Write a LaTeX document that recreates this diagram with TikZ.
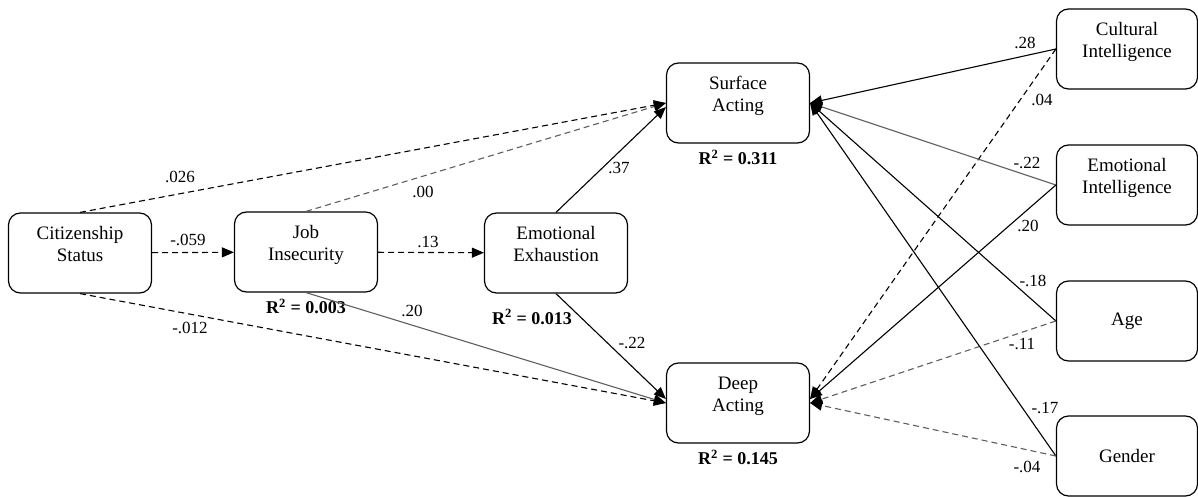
\documentclass[tikz,border=0pt]{standalone}
\usepackage{fontspec}
\setmainfont{Liberation Serif}
\usepackage{tikz}
\usetikzlibrary{arrows.meta,positioning}
\definecolor{lgray}{HTML}{5E5E5E}
\tikzset{
  >={Triangle[length=12pt,width=10pt,color=black]},
  box/.style={draw,rounded corners=12pt,line width=1.2pt,minimum width=143pt,minimum height=80pt,inner sep=3pt,align=center,font=\fontsize{19}{22}\selectfont,text depth=18pt},
  onebox/.style={box,text depth={}},
  lab/.style={font=\fontsize{17}{20}\selectfont,inner sep=1pt},
  rsq/.style={font=\fontsize{18}{21}\selectfont\bfseries,inner sep=1pt},
  arr/.style={->,draw=black,line width=1.1pt},
  garr/.style={->,draw=lgray,line width=1.1pt},
  darr/.style={->,draw=black,line width=1.1pt,dash pattern=on 6pt off 4pt},
  gdarr/.style={->,draw=lgray,line width=1.1pt,dash pattern=on 6pt off 4pt},
}
\begin{document}
\begin{tikzpicture}[x=1pt,y=-1pt]
\useasboundingbox (0,0) rectangle (1198,497);
% left chain
\node[box] (cs) at (80,253) {Citizenship\\Status};
\node[box] (ji) at (306,252) {Job\\Insecurity};
\node[box] (ee) at (556,253) {Emotional\\Exhaustion};
% outcomes
\node[box] (sa) at (738,103) {Surface\\Acting};
\node[box] (da) at (738,403) {Deep\\Acting};
% right predictors
\node[box,minimum width=141pt] (ci) at (1127,49) {Cultural\\Intelligence};
\node[box,minimum width=141pt] (ei) at (1127,185) {Emotional\\Intelligence};
\node[onebox,minimum width=141pt] (ag) at (1127,321) {Age};
\node[onebox,minimum width=141pt] (ge) at (1127,456) {Gender};
% R squared
\node[rsq,below=5pt of ji] (rji) {R\textsuperscript{2} = 0.003};
\node[rsq] (ree) at (532,317) {R\textsuperscript{2} = 0.013};
\node[rsq,below=5pt of sa] (rsa) {R\textsuperscript{2} = 0.311};
\node[rsq,below=5pt of da] (rda) {R\textsuperscript{2} = 0.145};
% paths into surface acting
\draw[darr] (cs.north) -- (sa.west);
\draw[gdarr] (ji.north) -- (sa.west);
\draw[arr] (ee.north) -- ([yshift=-4pt]sa.west);
\draw[darr] (cs) -- (ji);
\draw[darr] (ji) -- (ee);
% paths into deep acting
\draw[darr] (cs.south) -- (da.west);
\draw[garr] (ji.south) -- (da.west);
\draw[arr] (ee.south) -- ([yshift=4pt]da.west);
% right side
\draw[arr] (ci.west) -- (sa.east);
\draw[darr] (ci.west) -- ([yshift=4pt]da.east);
\draw[garr] (ei.west) -- (sa.east);
\draw[arr] (ei.west) -- ([yshift=4pt]da.east);
\draw[arr] (ag.west) -- (sa.east);
\draw[gdarr] (ag.west) -- (da.east);
\draw[arr] (ge.west) -- (sa.east);
\draw[gdarr] (ge.west) -- (da.east);
% coefficients
\node[lab] (w1) at (180,177) {.026};
\node[lab] (w2) at (423,192) {.00};
\node[lab] (w3) at (619,168) {.37};
\node[lab] (w4) at (188,240) {-.059};
\node[lab] (w5) at (428,242) {.13};
\node[lab] (w6) at (190,328) {-.012};
\node[lab] (w7) at (412,311) {.20};
\node[lab] (w8) at (632,343) {-.22};
\node[lab] (w9) at (1025,43) {.28};
\node[lab] (w10) at (1042,100) {.04};
\node[lab] (w11) at (1027,163) {-.22};
\node[lab] (w12) at (1028,226) {.20};
\node[lab] (w13) at (1033,281) {-.18};
\node[lab] (w14) at (1022,344) {-.11};
\node[lab] (w15) at (1045,408) {-.17};
\node[lab] (w16) at (1027,467) {-.04};
\end{tikzpicture}
\end{document}
